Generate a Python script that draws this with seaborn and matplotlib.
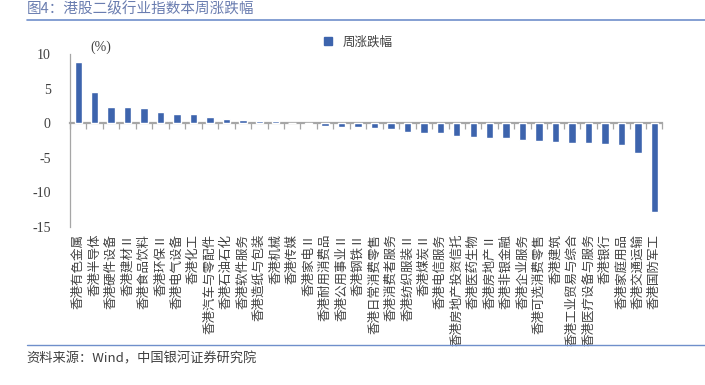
import numpy as np
import pandas as pd
import matplotlib
matplotlib.use('Agg')
import matplotlib.pyplot as plt
from matplotlib.lines import Line2D
import seaborn as sns

# Industry names (Hong Kong level-2 sector indices) and weekly change in %
industries = ['香港有色金属', '香港半导体', '香港硬件设备', '香港建材Ⅱ', '香港食品饮料',
              '香港环保Ⅱ', '香港电气设备', '香港化工', '香港汽车与零配件', '香港石油石化',
              '香港软件服务', '香港造纸与包装', '香港机械', '香港传媒', '香港家电Ⅱ',
              '香港耐用消费品', '香港公用事业Ⅱ', '香港钢铁Ⅱ', '香港日常消费零售', '香港消费者服务',
              '香港纺织服装Ⅱ', '香港煤炭Ⅱ', '香港电信服务', '香港房地产投资信托', '香港医药生物',
              '香港房地产Ⅱ', '香港非银金融', '香港企业服务', '香港可选消费零售', '香港建筑',
              '香港工业贸易与综合', '香港医疗设备与服务', '香港银行', '香港家庭用品', '香港交通运输',
              '香港国防军工']
weekly_change = [8.85, 4.5, 2.4, 2.3, 2.25,
                 1.55, 1.4, 1.38, 0.83, 0.64,
                 0.4, 0.35, 0.25, 0.1, -0.05,
                 -0.4, -0.5, -0.6, -0.65, -0.9,
                 -1.2, -1.4, -1.45, -1.9, -2.05,
                 -2.15, -2.15, -2.4, -2.5, -2.65,
                 -2.9, -2.9, -2.95, -3.15, -4.3,
                 -12.9]
y_ticks = [10, 5, 0, -5, -10, -15]

bar_color = '#3D64AD'
grey = '#A6A6A6'
text_color = '#404040'

sns.set_style('white')
plt.rcParams['font.family'] = ['Noto Sans CJK SC', 'DejaVu Sans']

df = pd.DataFrame({'industry': industries, 'change': weekly_change})

fig = plt.figure(figsize=(7.05, 3.85), dpi=100)
ax = fig.add_axes([0.0993, 0.4104, 0.8404, 0.4493])

sns.barplot(data=df, x='industry', y='change', color=bar_color, width=0.45,
            saturation=1, ax=ax)

ax.set_xlim(-0.5, len(industries) - 0.5)
ax.set_ylim(-15, 10)
ax.set_yticks(y_ticks)
ax.set_yticklabels([str(v) for v in y_ticks], fontfamily='Liberation Serif',
                   fontsize=10, color=text_color)
ax.tick_params(axis='y', direction='out', length=4, color=grey, pad=10)
ax.tick_params(axis='x', length=0, pad=5)
ax.set_xticks(range(len(industries)))
ax.set_xticklabels(industries, rotation=90, fontsize=9, color=text_color, va='top')
ax.set_xlabel('')
ax.set_ylabel('')

for side in ['top', 'right', 'bottom']:
    ax.spines[side].set_visible(False)
ax.spines['left'].set_color(grey)
ax.spines['left'].set_linewidth(0.9)

# zero axis with category boundary ticks
zero_ax = ax.secondary_xaxis(0, transform=ax.transData)
zero_ax.set_xticks(np.arange(-0.5, len(industries), 1.0))
zero_ax.set_xticklabels([])
zero_ax.tick_params(direction='out', length=4, color=grey, width=0.9)
zero_ax.spines['bottom'].set_color(grey)
zero_ax.spines['bottom'].set_linewidth(1.6)

ax.text(0.035, 1.0, '(%)', transform=ax.transAxes, fontsize=10,
        fontfamily='Liberation Serif', color=text_color, va='bottom')

handle = Line2D([], [], marker='s', linestyle='', markersize=6,
                color=bar_color, label='周涨跌幅')
ax.legend(handles=[handle], loc='upper left', bbox_to_anchor=(0.395, 1.17),
          frameon=False, fontsize=9, handletextpad=0.2, labelcolor=text_color)

# header and footer
fig.text(0.038, 0.975, '图4：港股二级行业指数本周涨跌幅', fontsize=10.5,
         color='#6A7DB0', va='center', ha='left')
fig.add_artist(Line2D([0.038, 1.0], [0.947, 0.947], color='#6F8FCB', linewidth=1.2,
                      transform=fig.transFigure))
fig.add_artist(Line2D([0.038, 1.0], [0.104, 0.104], color='#6F8FCB', linewidth=1.0,
                      transform=fig.transFigure))
fig.text(0.038, 0.068, '资料来源：Wind，中国银河证券研究院', fontsize=9.5,
         color='#404040', style='italic', va='center', ha='left')

fig.savefig('out.png', dpi=100)
